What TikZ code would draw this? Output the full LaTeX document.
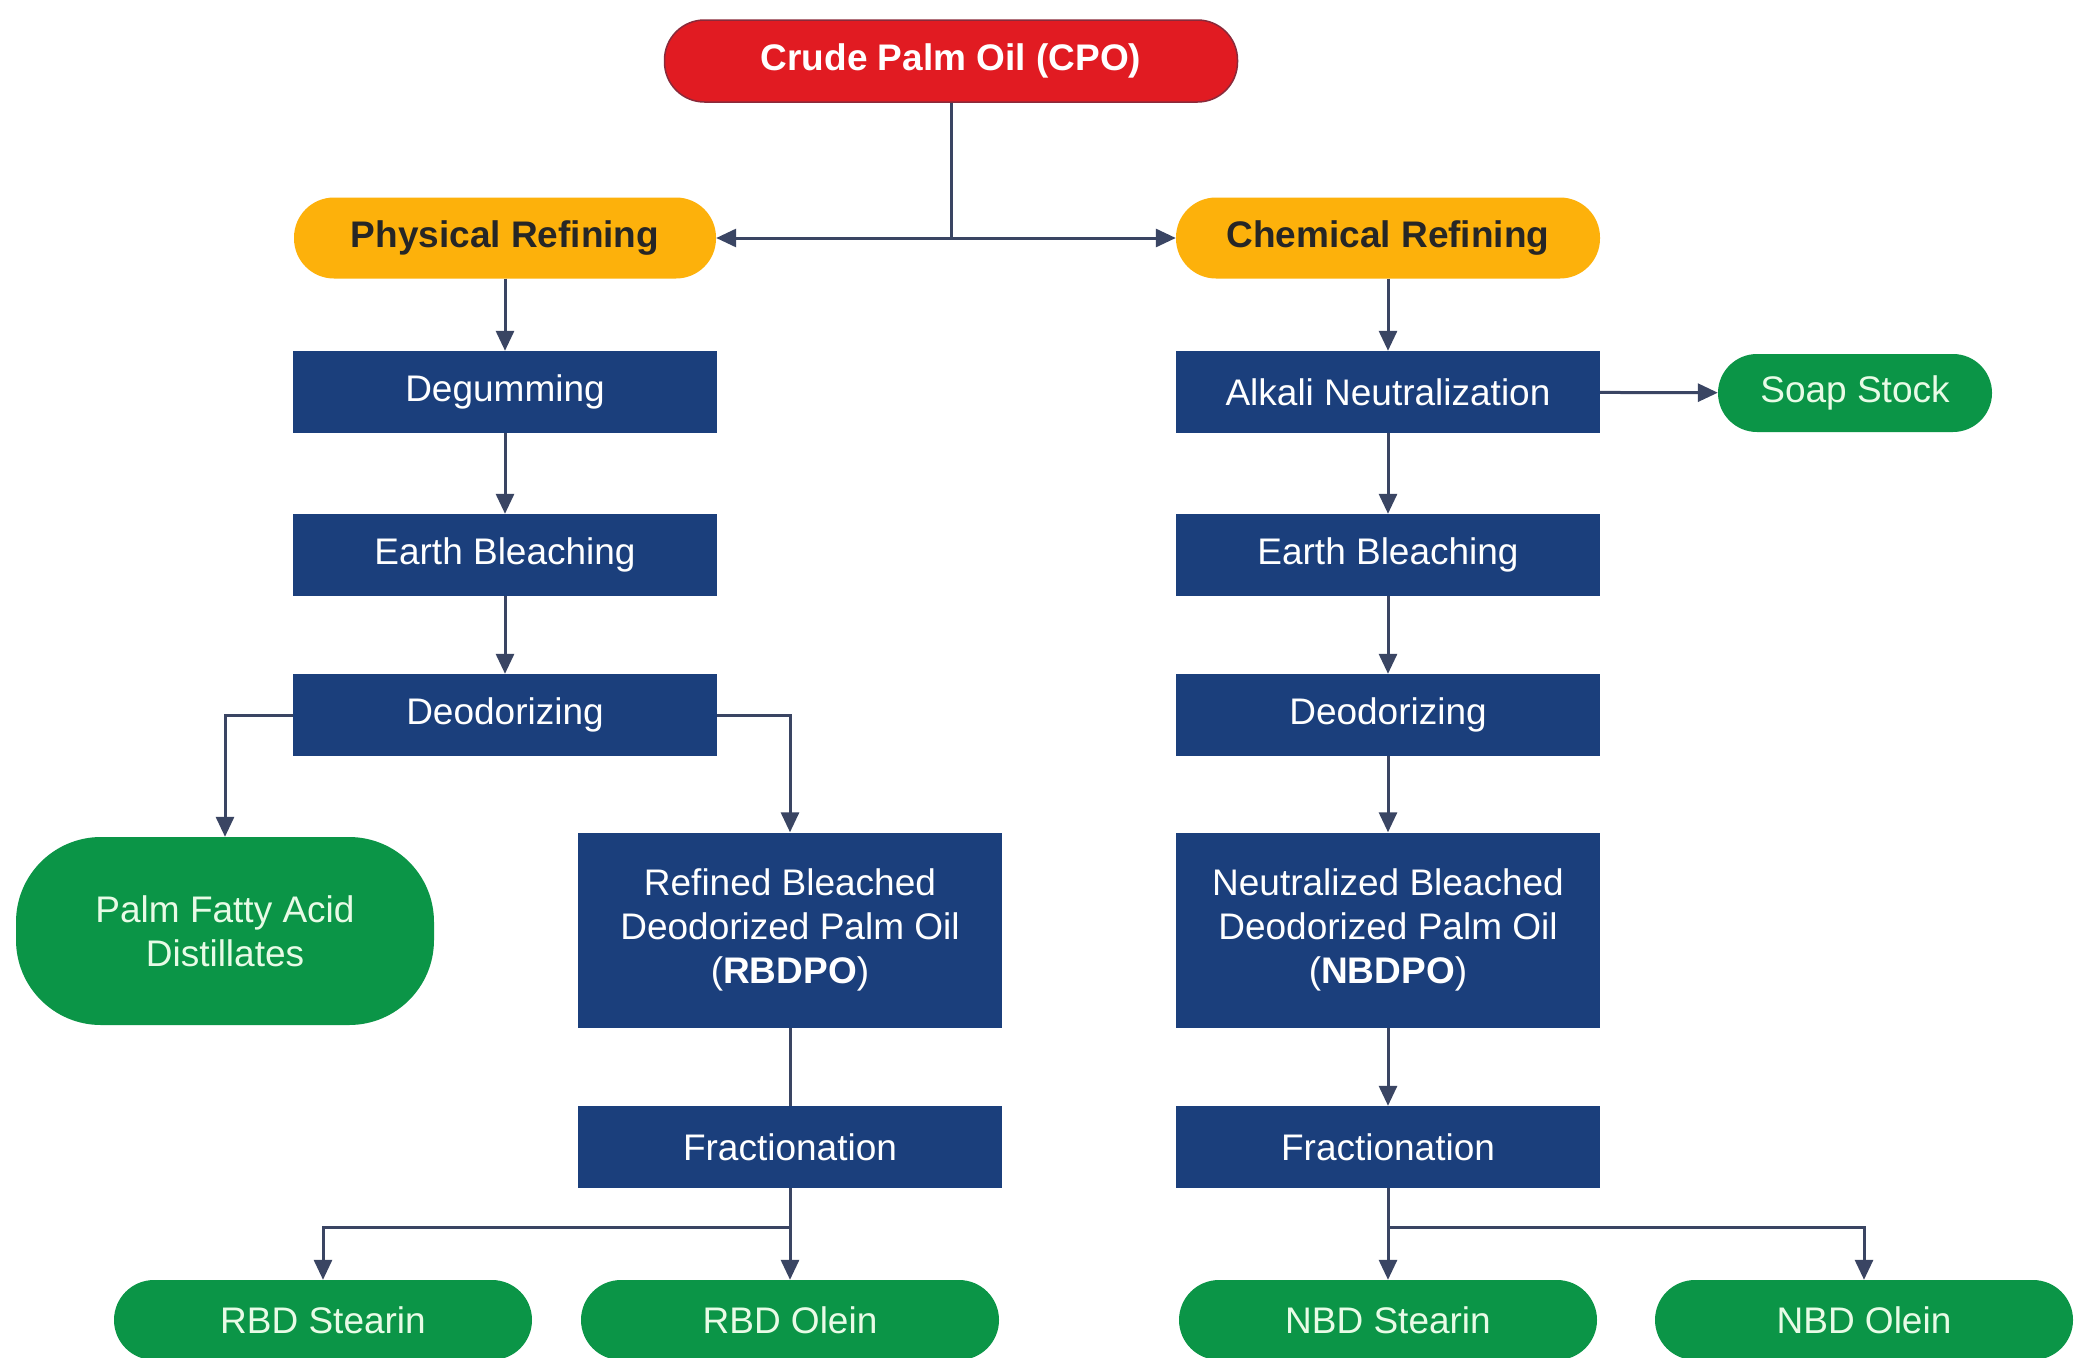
\documentclass[tikz,border=0pt]{standalone}
\usepackage{fontspec}
\setmainfont{Liberation Sans}
\usetikzlibrary{arrows.meta}
\definecolor{cpored}{HTML}{E11B22}
\definecolor{cpoedge}{HTML}{8A2A3A}
\definecolor{refor}{HTML}{FDB10B}
\definecolor{navy}{HTML}{1B3F7C}
\definecolor{grn}{HTML}{0B9547}
\definecolor{lnk}{HTML}{3A4563}
\definecolor{txtgrn}{HTML}{E8FBE6}
\begin{document}
\begin{tikzpicture}[x=1pt,y=-1pt,
  every node/.style={inner sep=0pt, align=center, font=\fontsize{37}{44}\selectfont},
  cpobox/.style={rectangle, rounded corners=40pt, fill=cpored, draw=cpoedge, line width=1.5pt, minimum width=573pt, minimum height=82pt, text=white, font=\fontsize{37}{44}\selectfont\bfseries},
  refbox/.style={rectangle, rounded corners=40pt, fill=refor, minimum width=422pt, minimum height=81pt, text=black!85, font=\fontsize{37}{44}\selectfont\bfseries},
  procbox/.style={rectangle, fill=navy, minimum width=424pt, minimum height=82pt, text=white},
  bigbox/.style={rectangle, fill=navy, minimum width=424pt, minimum height=195pt, text=white},
  prodpill/.style={rectangle, rounded corners=40pt, fill=grn, minimum width=418pt, minimum height=80pt, text=txtgrn},
  lnkline/.style={draw=lnk, line width=3pt},
  arr/.style={lnkline, -{Triangle[length=20pt,width=18pt]}}
]
\useasboundingbox (0,0) rectangle (2076,1357);
\fill[white] (0,0) rectangle (2076,1357);

\node[cpobox] (cpo) at (951,61) {Crude Palm Oil (CPO)};
\node[refbox] (phys) at (505,238) {Physical Refining};
\node[refbox, minimum width=424pt] (chem) at (1388,238) {Chemical Refining};

\node[procbox] (degum) at (505,392) {Degumming};
\node[procbox] (ebl) at (505,555) {Earth Bleaching};
\node[procbox] (deol) at (505,715) {Deodorizing};
\node[prodpill, rounded corners=85pt, minimum height=188pt] (pfad) at (225,931) {Palm Fatty Acid\\Distillates};
\node[bigbox] (rbdpo) at (790,930) {Refined Bleached\\Deodorized Palm Oil\\(\textbf{RBDPO})};
\node[procbox] (fracl) at (790,1147) {Fractionation};
\node[prodpill] (rbds) at (323,1320) {RBD Stearin};
\node[prodpill] (rbdo) at (790,1320) {RBD Olein};

\node[procbox] (alk) at (1388,392) {Alkali Neutralization};
\node[prodpill, minimum width=274pt, minimum height=78pt, rounded corners=39pt] (soap) at (1855,393) {Soap Stock};
\node[procbox] (ebr) at (1388,555) {Earth Bleaching};
\node[procbox] (deor) at (1388,715) {Deodorizing};
\node[bigbox] (nbdpo) at (1388,930) {Neutralized Bleached\\Deodorized Palm Oil\\(\textbf{NBDPO})};
\node[procbox] (fracr) at (1388,1147) {Fractionation};
\node[prodpill] (nbds) at (1388,1320) {NBD Stearin};
\node[prodpill] (nbdo) at (1864,1320) {NBD Olein};

\coordinate (split) at (cpo.south |- phys.east);
\draw[lnkline] (cpo.south) -- (split);
\draw[arr] (split) -- (phys.east);
\draw[arr] (split) -- (chem.west);

\draw[arr] (phys) -- (degum);
\draw[arr] (degum) -- (ebl);
\draw[arr] (ebl) -- (deol);
\draw[arr] (deol.west) -| (pfad.north);
\draw[arr] (deol.east) -| (rbdpo.north);
\draw[lnkline] (rbdpo) -- (fracl);
\draw[arr] (fracl.south) -- (rbdo.north);
\coordinate (bl) at (790,1227);
\draw[arr] (bl) -| (rbds.north);

\draw[arr] (chem) -- (alk);
\draw[arr] (alk) -- (soap);
\draw[arr] (alk) -- (ebr);
\draw[arr] (ebr) -- (deor);
\draw[arr] (deor) -- (nbdpo);
\draw[arr] (nbdpo) -- (fracr);
\draw[arr] (fracr.south) -- (nbds.north);
\coordinate (br) at (1388,1227);
\draw[arr] (br) -| (nbdo.north);
\end{tikzpicture}
\end{document}
